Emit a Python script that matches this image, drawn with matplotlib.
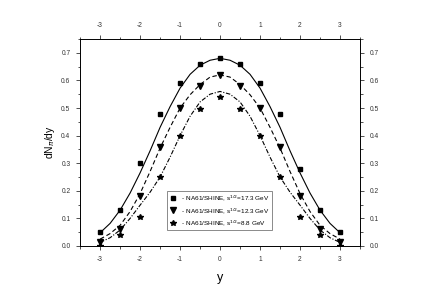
import matplotlib.pyplot as plt
import numpy as np
from matplotlib.ticker import MultipleLocator

# measured points (rapidity, dN/dy)
y_pts = [-3, -2.5, -2, -1.5, -1, -0.5, 0, 0.5, 1, 1.5, 2, 2.5, 3]
dn_173 = [0.05, 0.13, 0.30, 0.48, 0.59, 0.66, 0.68, 0.66, 0.59, 0.48, 0.28, 0.13, 0.05]
dn_123 = [0.015, 0.06, 0.18, 0.36, 0.50, 0.58, 0.62, 0.58, 0.50, 0.36, 0.18, 0.06, 0.015]
dn_88 = [0.0, 0.04, 0.105, 0.25, 0.40, 0.495, 0.54, 0.495, 0.40, 0.25, 0.105, 0.04, 0.0]

# model curves
y_fit = [-3, -2.75, -2.5, -2.25, -2, -1.75, -1.5, -1.25, -1, -0.75, -0.5, -0.25, 0,
         0.25, 0.5, 0.75, 1, 1.25, 1.5, 1.75, 2, 2.25, 2.5, 2.75, 3]
fit_173 = [0.048, 0.082, 0.130, 0.192, 0.265, 0.345, 0.430, 0.505, 0.572, 0.622, 0.655, 0.673, 0.680,
           0.673, 0.655, 0.622, 0.572, 0.505, 0.430, 0.345, 0.265, 0.192, 0.130, 0.082, 0.048]
fit_123 = [0.025, 0.045, 0.075, 0.125, 0.190, 0.270, 0.355, 0.430, 0.500, 0.548, 0.585, 0.612, 0.620,
           0.612, 0.585, 0.548, 0.500, 0.430, 0.355, 0.270, 0.190, 0.125, 0.075, 0.045, 0.025]
fit_88 = [0.013, 0.030, 0.058, 0.100, 0.148, 0.195, 0.250, 0.322, 0.400, 0.470, 0.522, 0.550, 0.560,
          0.550, 0.522, 0.470, 0.400, 0.322, 0.250, 0.195, 0.148, 0.100, 0.058, 0.030, 0.013]

labels = [r' - NA61/SHINE, s$^{1/2}$=17.3 GeV',
          r' - NA61/SHINE, s$^{1/2}$=12.3 GeV',
          r' - NA61/SHINE, s$^{1/2}$=8.8 GeV']

plt.rcParams['font.family'] = ['Liberation Sans', 'DejaVu Sans']
plt.rcParams['axes.unicode_minus'] = False

fig = plt.figure(figsize=(4.24, 3.0), dpi=100)
ax = fig.add_axes([0.189, 0.18, 0.660, 0.69])

lw = 0.8
ax.plot(y_fit, fit_173, c='k', lw=lw, ls='-')
ax.plot(y_fit, fit_123, c='k', lw=lw, ls=(0, (4, 2.5)))
ax.plot(y_fit, fit_88, c='k', lw=lw, ls=(0, (4, 1.5, 1, 1.5)))

ax.plot(y_pts, dn_173, 's', c='k', ms=3.2, ls='none', label=labels[0])
ax.plot(y_pts, dn_123, 'v', c='k', ms=4.0, ls='none', label=labels[1])
ax.plot(y_pts, dn_88, '*', c='k', ms=4.2, ls='none', label=labels[2])

ax.set_xlim(-3.5, 3.5)
ax.set_ylim(0, 0.75)
ax.xaxis.set_major_locator(MultipleLocator(1))
ax.xaxis.set_minor_locator(MultipleLocator(0.5))
ax.yaxis.set_minor_locator(MultipleLocator(0.05))
ax.set_yticks(np.arange(0, 0.71, 0.1))
ax.set_yticklabels(['{:.1f}'.format(v) for v in np.arange(0, 0.71, 0.1)])

ax.tick_params(which='both', labelsize=4.8, width=0.6, colors='#333333', labelcolor='#333333')
ax.tick_params(which='major', length=3, pad=4)
ax.tick_params(which='minor', length=1.8)
ax.tick_params(axis='x', which='both', top=True, labeltop=True, direction='out')
ax.tick_params(axis='y', which='both', right=True, labelright=True, direction='out')
for s in ax.spines.values():
    s.set_linewidth(0.7)

ax.set_xlabel('y', fontsize=9, labelpad=7)
ax.set_ylabel(r'dN$_{\pi}$/dy', fontsize=7.5, labelpad=3)

leg = ax.legend(loc='lower left', bbox_to_anchor=(0.312, 0.075), fontsize=4.6,
                frameon=True, fancybox=False, edgecolor='#555555', handlelength=1.0,
                handletextpad=0.5, borderpad=0.4, labelspacing=0.4, borderaxespad=0)
leg.get_frame().set_linewidth(0.6)

fig.savefig('out.png', dpi=100)
